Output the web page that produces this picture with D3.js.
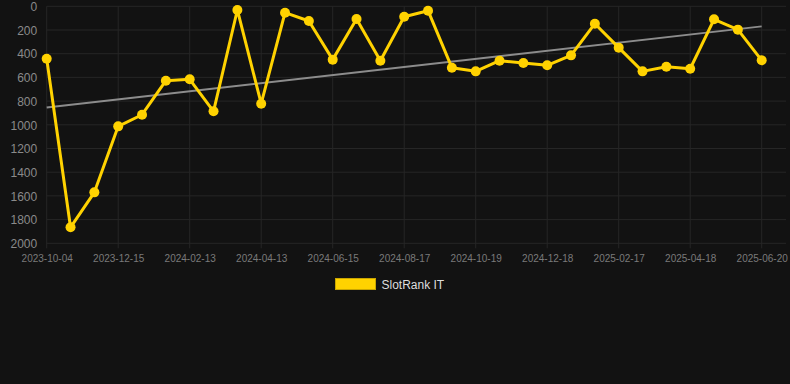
<!DOCTYPE html>
<html>
<head>
<meta charset="utf-8">
<script src="https://cdn.jsdelivr.net/npm/d3@7"></script>
<style>
  html, body { margin: 0; padding: 0; background: #121212; }
  svg { display: block; }
</style>
</head>
<body>
<svg id="chart" width="790" height="384"></svg>
<script>
const dates = [
  "2023-10-04","2023-10-28","2023-11-21","2023-12-15","2024-01-04","2024-01-24",
  "2024-02-13","2024-03-03","2024-03-23","2024-04-13","2024-05-04","2024-05-25",
  "2024-06-15","2024-07-06","2024-07-27","2024-08-17","2024-09-07","2024-09-28",
  "2024-10-19","2024-11-08","2024-11-28","2024-12-18","2025-01-07","2025-01-28",
  "2025-02-17","2025-03-09","2025-03-29","2025-04-18","2025-05-09","2025-05-30",
  "2025-06-20"
];
const ranks = [
  442, 1865, 1570, 1013, 915, 628,
  616, 886, 31, 822, 54, 124,
  450, 107, 459, 88, 37, 518,
  549, 459, 478, 498, 414, 147,
  349, 549, 510, 527, 110, 197,
  456
];
const xTickLabels = [
  "2023-10-04","2023-12-15","2024-02-13","2024-04-13","2024-06-15","2024-08-17",
  "2024-10-19","2024-12-18","2025-02-17","2025-04-18","2025-06-20"
];
const yTicks = [0, 200, 400, 600, 800, 1000, 1200, 1400, 1600, 1800, 2000];
const seriesName = "SlotRank IT";

const svg = d3.select("#chart");
const pLeft = 46.7, pRight = 761.7, gridRight = 786, pTop = 6.3, pBottom = 243.3;
const lineColor = "#FFD200";
const gridColor = "#262626";

const x = d3.scalePoint().domain(dates).range([pLeft, pRight]);
const y = d3.scaleLinear().domain([0, 2000]).range([pTop, pBottom]);

// horizontal grid
svg.append("g").selectAll("line").data(yTicks).join("line")
  .attr("x1", pLeft).attr("x2", gridRight)
  .attr("y1", d => y(d)).attr("y2", d => y(d))
  .attr("stroke", gridColor).attr("stroke-width", 1);

// vertical grid
svg.append("g").selectAll("line").data(xTickLabels).join("line")
  .attr("x1", d => x(d)).attr("x2", d => x(d))
  .attr("y1", pTop).attr("y2", pBottom + 5)
  .attr("stroke", gridColor).attr("stroke-width", 1);

// y axis labels
const yAxis = d3.axisLeft(y).tickValues(yTicks).tickFormat(d3.format("d")).tickSize(0).tickPadding(0);
const gy = svg.append("g").attr("transform", `translate(${pLeft - 9.5},0)`).call(yAxis);
gy.select(".domain").remove();
gy.selectAll("text").attr("fill", "#8a8a8a").attr("font-size", 12)
  .attr("font-family", "Liberation Sans, Arial, sans-serif").attr("dy", "0.35em");

// x axis labels
const xAxis = d3.axisBottom(x).tickValues(xTickLabels).tickSize(0).tickPadding(0);
const gx = svg.append("g").attr("transform", `translate(0,${pBottom + 12})`).call(xAxis);
gx.select(".domain").remove();
gx.selectAll("text").attr("fill", "#7a7a7a").attr("font-size", 10)
  .attr("font-family", "Liberation Sans, Arial, sans-serif").attr("dy", "0.71em");

// trend line (least squares)
const n = ranks.length;
const idx = d3.range(n);
const mx = d3.mean(idx), my = d3.mean(ranks);
const slope = d3.sum(idx, i => (i - mx) * (ranks[i] - my)) / d3.sum(idx, i => (i - mx) ** 2);
const intercept = my - slope * mx;
svg.append("line")
  .attr("x1", x(dates[0])).attr("y1", y(intercept))
  .attr("x2", x(dates[n - 1])).attr("y2", y(intercept + slope * (n - 1)))
  .attr("stroke", "#8c8c8c").attr("stroke-width", 2);

// series line
const data = dates.map((d, i) => ({ d, v: ranks[i] }));
svg.append("path").datum(data)
  .attr("fill", "none").attr("stroke", lineColor).attr("stroke-width", 3)
  .attr("stroke-linejoin", "round")
  .attr("d", d3.line().x(p => x(p.d)).y(p => y(p.v)));

svg.append("g").selectAll("circle").data(data).join("circle")
  .attr("cx", p => x(p.d)).attr("cy", p => y(p.v)).attr("r", 5)
  .attr("fill", lineColor);

// legend
const lg = svg.append("g");
lg.append("rect").attr("x", 335.5).attr("y", 278.5).attr("width", 40).attr("height", 11)
  .attr("fill", lineColor).attr("stroke", "#c9a500").attr("stroke-width", 1);
lg.append("text").attr("x", 381.5).attr("y", 289)
  .attr("fill", "#dddddd").attr("font-size", 12)
  .attr("font-family", "Liberation Sans, Arial, sans-serif")
  .text(seriesName);
</script>
</body>
</html>
